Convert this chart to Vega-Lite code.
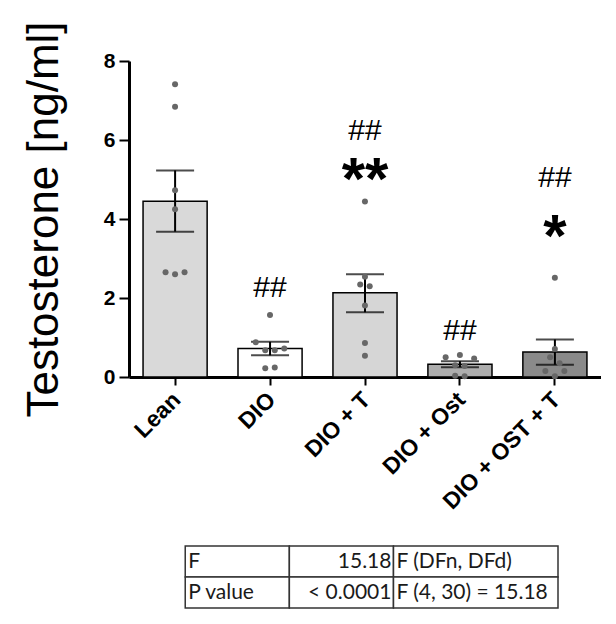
{
  "$schema": "https://vega.github.io/schema/vega-lite/v6.json",
  "padding": {"left": 22, "top": 20, "right": 0, "bottom": 0},
  "bounds": "flush",
  "spacing": 169,
  "background": "white",
  "config": {"view": {"stroke": null}, "font": "Liberation Sans"},
  "datasets": {
    "bars": [
      {"group": "Lean", "mean": 4.45, "lo": 3.68, "hi": 5.23},
      {"group": "DIO", "mean": 0.72, "lo": 0.55, "hi": 0.89},
      {"group": "DIO + T", "mean": 2.13, "lo": 1.64, "hi": 2.6},
      {"group": "DIO + Ost", "mean": 0.32, "lo": 0.25, "hi": 0.4},
      {"group": "DIO + OST + T", "mean": 0.63, "lo": 0.31, "hi": 0.95}
    ],
    "points": [
      {"group": "Lean", "value": 7.41, "j": 0},
      {"group": "Lean", "value": 6.84, "j": 0},
      {"group": "Lean", "value": 4.73, "j": 0},
      {"group": "Lean", "value": 4.25, "j": 0},
      {"group": "Lean", "value": 2.65, "j": -1},
      {"group": "Lean", "value": 2.6, "j": 0},
      {"group": "Lean", "value": 2.65, "j": 1},
      {"group": "DIO", "value": 1.57, "j": 0},
      {"group": "DIO", "value": 0.88, "j": -1.5},
      {"group": "DIO", "value": 0.68, "j": -0.5},
      {"group": "DIO", "value": 0.68, "j": 0.5},
      {"group": "DIO", "value": 0.72, "j": 1.5},
      {"group": "DIO", "value": 0.22, "j": -0.5},
      {"group": "DIO", "value": 0.24, "j": 0.5},
      {"group": "DIO + T", "value": 4.44, "j": 0},
      {"group": "DIO + T", "value": 2.54, "j": 0},
      {"group": "DIO + T", "value": 2.34, "j": -0.5},
      {"group": "DIO + T", "value": 2.3, "j": 0.5},
      {"group": "DIO + T", "value": 1.81, "j": 0},
      {"group": "DIO + T", "value": 0.86, "j": 0},
      {"group": "DIO + T", "value": 0.54, "j": 0},
      {"group": "DIO + Ost", "value": 0.5, "j": -1.5},
      {"group": "DIO + Ost", "value": 0.56, "j": 0},
      {"group": "DIO + Ost", "value": 0.47, "j": 1.5},
      {"group": "DIO + Ost", "value": 0.3, "j": -0.5},
      {"group": "DIO + Ost", "value": 0.28, "j": 0.5},
      {"group": "DIO + Ost", "value": 0.03, "j": -0.5},
      {"group": "DIO + Ost", "value": 0.02, "j": 0.5},
      {"group": "DIO + OST + T", "value": 2.51, "j": 0},
      {"group": "DIO + OST + T", "value": 0.71, "j": 0},
      {"group": "DIO + OST + T", "value": 0.5, "j": -0.5},
      {"group": "DIO + OST + T", "value": 0.35, "j": 0.5},
      {"group": "DIO + OST + T", "value": 0.15, "j": -1},
      {"group": "DIO + OST + T", "value": 0.15, "j": 1},
      {"group": "DIO + OST + T", "value": 0.02, "j": 0}
    ],
    "marks": [
      {"group": "DIO", "label": "##", "y": 2.25},
      {"group": "DIO + T", "label": "##", "y": 6.23},
      {"group": "DIO + T", "label": "**", "y": 4.95},
      {"group": "DIO + Ost", "label": "##", "y": 1.16},
      {"group": "DIO + OST + T", "label": "##", "y": 5.03},
      {"group": "DIO + OST + T", "label": "*", "y": 3.52}
    ],
    "table": [
      {"row": 1, "col": 1, "c0": 0, "c1": 1, "text": "F"},
      {"row": 1, "col": 2, "c0": 1, "c1": 2, "text": "15.18"},
      {"row": 1, "col": 3, "c0": 2, "c1": 3.58, "text": "F (DFn, DFd)"},
      {"row": 2, "col": 1, "c0": 0, "c1": 1, "text": "P value"},
      {"row": 2, "col": 2, "c0": 1, "c1": 2, "text": "< 0.0001"},
      {"row": 2, "col": 3, "c0": 2, "c1": 3.58, "text": "F (4, 30) = 15.18"}
    ]
  },
  "vconcat": [
    {
      "width": 472,
      "height": 316,
      "resolve": {"scale": {"x": "independent", "xOffset": "independent"}, "axis": {"x": "independent"}},
      "layer": [
        {
          "layer": [
            {
              "data": {"name": "bars"},
              "mark": {"type": "bar", "stroke": "black", "strokeWidth": 1.5},
              "encoding": {
                "x": {
                  "field": "group",
                  "type": "nominal",
                  "scale": {
                    "domain": ["Lean", "DIO", "DIO + T", "DIO + Ost", "DIO + OST + T"],
                    "paddingInner": 0.325,
                    "paddingOuter": 0.148
                  },
                  "axis": {
                    "title": null,
                    "labelAngle": -45,
                    "labelFontSize": 23,
                    "labelFontWeight": "bold",
                    "labelColor": "black",
                    "labelPadding": 3,
                    "labelOffset": -6,
                    "domainColor": "black",
                    "domainWidth": 3,
                    "tickColor": "black",
                    "tickWidth": 2,
                    "tickSize": 8
                  }
                },
                "y": {
                  "field": "mean",
                  "type": "quantitative",
                  "scale": {"domain": [0, 8], "nice": false},
                  "axis": {
                    "values": [0, 2, 4, 6, 8],
                    "grid": false,
                    "title": "Testosterone [ng/ml]",
                    "titleFontSize": 44,
                    "titleFontWeight": "normal",
                    "titleColor": "black",
                    "titlePadding": 37,
                    "labelFontSize": 21,
                    "labelFontWeight": "bold",
                    "labelColor": "black",
                    "labelPadding": 4,
                    "domainColor": "black",
                    "domainWidth": 3,
                    "tickColor": "black",
                    "tickWidth": 2,
                    "tickSize": 10
                  }
                },
                "color": {
                  "field": "group",
                  "type": "nominal",
                  "scale": {
                    "domain": ["Lean", "DIO", "DIO + T", "DIO + Ost", "DIO + OST + T"],
                    "range": ["#d9d9d9", "#ffffff", "#d6d6d6", "#adadad", "#8a8a8a"]
                  },
                  "legend": null
                }
              }
            },
            {
              "data": {"name": "bars"},
              "mark": {"type": "rule", "color": "black", "strokeWidth": 2},
              "encoding": {
                "x": {"field": "group", "type": "nominal"},
                "y": {"field": "lo", "type": "quantitative"},
                "y2": {"field": "hi"}
              }
            },
            {
              "data": {"name": "bars"},
              "mark": {"type": "tick", "color": "black", "size": 38, "thickness": 2, "orient": "horizontal"},
              "encoding": {
                "x": {"field": "group", "type": "nominal"},
                "y": {"field": "lo", "type": "quantitative"}
              }
            },
            {
              "data": {"name": "bars"},
              "mark": {"type": "tick", "color": "black", "size": 38, "thickness": 2, "orient": "horizontal"},
              "encoding": {
                "x": {"field": "group", "type": "nominal"},
                "y": {"field": "hi", "type": "quantitative"}
              }
            },
            {
              "data": {"name": "marks"},
              "transform": [{"filter": "datum.label == '##'"}],
              "mark": {"type": "text", "fontSize": 30, "color": "black", "baseline": "middle"},
              "encoding": {
                "x": {"field": "group", "type": "nominal"},
                "y": {"field": "y", "type": "quantitative"},
                "text": {"field": "label"}
              }
            },
            {
              "data": {"name": "marks"},
              "transform": [{"filter": "datum.label != '##'"}],
              "mark": {"type": "text", "fontSize": 60, "fontWeight": "bold", "color": "black", "baseline": "middle"},
              "encoding": {
                "x": {"field": "group", "type": "nominal"},
                "y": {"field": "y", "type": "quantitative"},
                "text": {"field": "label"}
              }
            }
          ]
        },
        {
          "data": {"name": "points"},
          "mark": {"type": "circle", "size": 36, "color": "#676767", "opacity": 1},
          "encoding": {
            "x": {
              "field": "group",
              "type": "nominal",
              "axis": null,
              "scale": {
                "domain": ["Lean", "DIO", "DIO + T", "DIO + Ost", "DIO + OST + T"],
                "paddingInner": 0.325,
                "paddingOuter": 0.148
              }
            },
            "y": {"field": "value", "type": "quantitative"},
            "xOffset": {
              "field": "j",
              "type": "quantitative",
              "scale": {"domain": [-2, 2], "range": [13, 51]}
            }
          }
        }
      ]
    },
    {
      "width": 429,
      "height": 62,
      "data": {"name": "table"},
      "encoding": {
        "y": {
          "field": "row",
          "type": "ordinal",
          "axis": null,
          "scale": {"paddingInner": 0, "paddingOuter": 0}
        }
      },
      "layer": [
        {
          "mark": {"type": "rect", "fill": "white", "stroke": "#333333", "strokeWidth": 1.5},
          "encoding": {
            "x": {"field": "c0", "type": "quantitative", "axis": null, "scale": {"domain": [-0.54, 3.58], "nice": false, "zero": false}},
            "x2": {"field": "c1"}
          }
        },
        {
          "transform": [{"filter": "datum.col != 2"}],
          "mark": {"type": "text", "font": "Lato", "fontSize": 21, "color": "#1a1a1a", "align": "left", "dx": 3, "baseline": "middle"},
          "encoding": {
            "x": {"field": "c0", "type": "quantitative"},
            "text": {"field": "text"}
          }
        },
        {
          "transform": [{"filter": "datum.col == 2"}],
          "mark": {"type": "text", "font": "Lato", "fontSize": 21, "color": "#1a1a1a", "align": "right", "dx": -2, "baseline": "middle"},
          "encoding": {
            "x": {"field": "c1", "type": "quantitative"},
            "text": {"field": "text"}
          }
        }
      ]
    }
  ]
}
